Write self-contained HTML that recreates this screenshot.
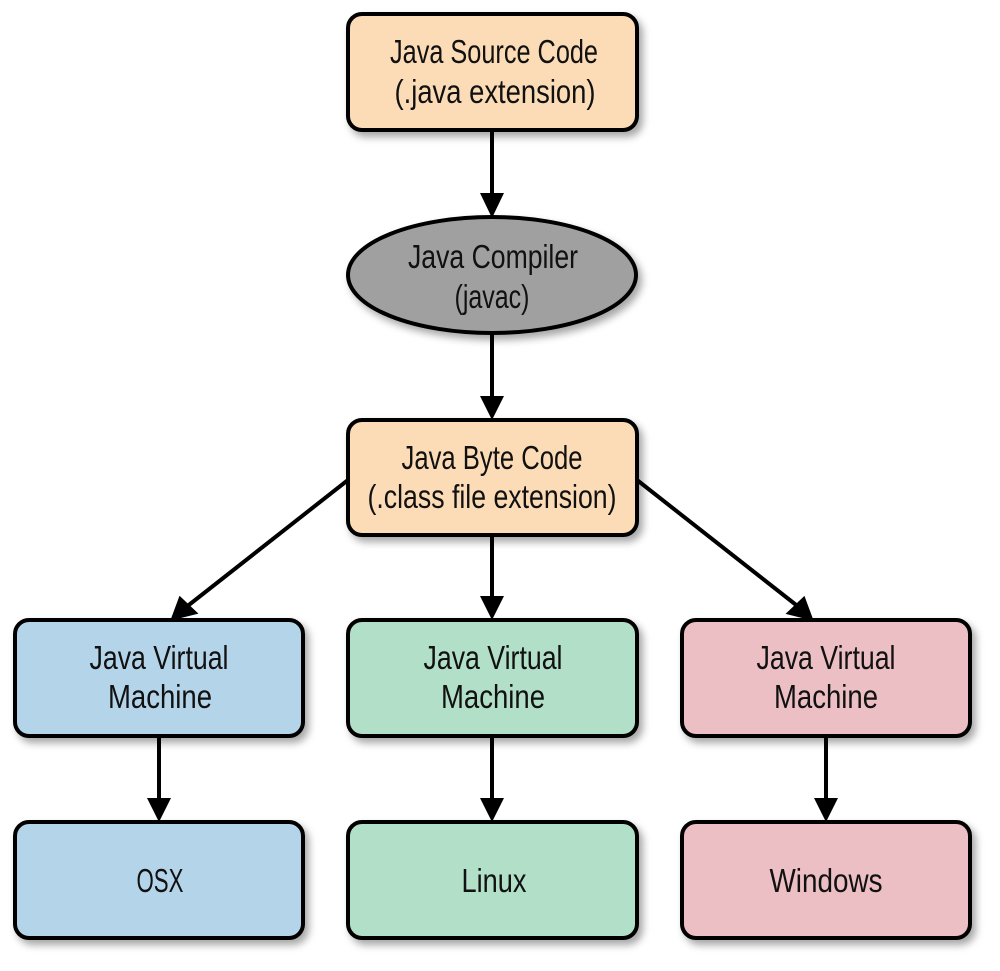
<!DOCTYPE html>
<html><head><meta charset="utf-8"><style>
html,body{margin:0;padding:0;background:#fff;}
svg text{font-family:"Liberation Sans Narrow","Liberation Sans",sans-serif;font-size:33px;fill:#111;text-anchor:middle;}
</style></head><body>
<svg width="1000" height="966" viewBox="0 0 1000 966" xmlns="http://www.w3.org/2000/svg">
<defs>
<filter id="sh" x="-10%" y="-10%" width="130%" height="140%"><feDropShadow dx="4" dy="5" stdDeviation="4" flood-color="#000" flood-opacity="0.35"/></filter>
</defs>
<g stroke="#000" stroke-width="4" fill="none">
<line x1="492" y1="130" x2="492" y2="204"/>
<line x1="492" y1="333" x2="492" y2="406"/>
<line x1="492" y1="535" x2="492" y2="606"/>
<line x1="348" y1="480" x2="185" y2="608"/>
<line x1="637" y1="480" x2="800" y2="608"/>
<line x1="159" y1="736" x2="159" y2="808"/>
<line x1="492" y1="736" x2="492" y2="808"/>
<line x1="826" y1="736" x2="826" y2="808"/>
</g>
<g fill="#000">
<polygon points="480,193 504,193 492,218"/>
<polygon points="480,396 504,396 492,420"/>
<polygon points="480,596 504,596 492,620"/>
<polygon points="147,798 171,798 159,822"/>
<polygon points="480,798 504,798 492,822"/>
<polygon points="814,798 838,798 826,822"/>
<polygon points="168,618 197,618 183,596" transform="rotate(-14 180 610)"/>
<polygon points="787,618 816,618 801,596" transform="rotate(14 803 610)"/>
</g>
<g stroke="#000" stroke-width="4" filter="url(#sh)">
<rect x="348" y="14" width="289" height="116" rx="14" fill="#fcdcb6"/>
<ellipse cx="492" cy="275" rx="144" ry="58" fill="#a0a0a0"/>
<rect x="348" y="420" width="289" height="115" rx="14" fill="#fcdcb6"/>
<rect x="15" y="620" width="288" height="116" rx="14" fill="#b4d4ea"/>
<rect x="348" y="620" width="289" height="116" rx="14" fill="#b2dfc8"/>
<rect x="682" y="620" width="288" height="116" rx="14" fill="#ebbfc3"/>
<rect x="15" y="822" width="288" height="116" rx="14" fill="#b4d4ea"/>
<rect x="348" y="822" width="289" height="116" rx="14" fill="#b2dfc8"/>
<rect x="682" y="822" width="288" height="116" rx="14" fill="#ebbfc3"/>
</g>
<g>
<text x="494" y="63" textLength="208" lengthAdjust="spacingAndGlyphs">Java Source Code</text>
<text x="495" y="103" textLength="201" lengthAdjust="spacingAndGlyphs">(.java extension)</text>
<text x="493" y="268" textLength="170" lengthAdjust="spacingAndGlyphs">Java Compiler</text>
<text x="492" y="308" textLength="75" lengthAdjust="spacingAndGlyphs">(javac)</text>
<text x="492" y="469" textLength="181" lengthAdjust="spacingAndGlyphs">Java Byte Code</text>
<text x="492" y="508" textLength="249" lengthAdjust="spacingAndGlyphs">(.class file extension)</text>
<text x="159" y="669" textLength="139" lengthAdjust="spacingAndGlyphs">Java Virtual</text>
<text x="160" y="708" textLength="104" lengthAdjust="spacingAndGlyphs">Machine</text>
<text x="493" y="669" textLength="139" lengthAdjust="spacingAndGlyphs">Java Virtual</text>
<text x="493" y="708" textLength="104" lengthAdjust="spacingAndGlyphs">Machine</text>
<text x="826" y="669" textLength="139" lengthAdjust="spacingAndGlyphs">Java Virtual</text>
<text x="826" y="708" textLength="104" lengthAdjust="spacingAndGlyphs">Machine</text>
<text x="160" y="892" textLength="47" lengthAdjust="spacingAndGlyphs">OSX</text>
<text x="494" y="892" textLength="65" lengthAdjust="spacingAndGlyphs">Linux</text>
<text x="826" y="892" textLength="113" lengthAdjust="spacingAndGlyphs">Windows</text>
</g>
</svg>
</body></html>
